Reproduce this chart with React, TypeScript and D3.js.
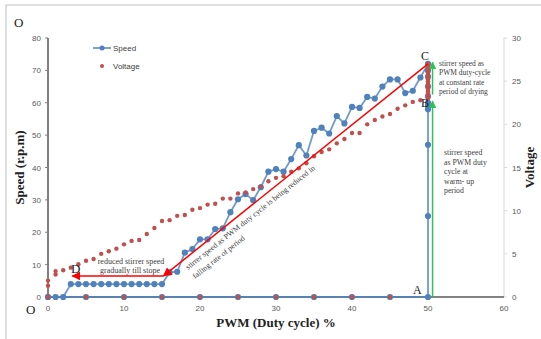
import * as d3 from "d3";

// speed series (r.p.m) — warm-up along 0, climb at 50 %, then falling-rate path back to 0
const speedDuty = [
  0, 5, 10, 15, 20, 25, 30, 35, 40, 45, 50,
  50, 50, 50, 50, 50, 50, 50, 50, 50, 50,
  49, 48, 47, 46, 45, 44, 43, 42, 41, 40, 39, 38, 37, 36, 35, 34, 33, 32, 31, 30,
  29, 28, 27, 26, 25, 24, 23, 22, 21, 20, 19, 18, 17, 16,
  15, 14, 13, 12, 11, 10, 9, 8, 7, 6, 5, 4, 3, 2, 1, 0,
];
const speedRpm = [
  0, 0, 0, 0, 0, 0, 0, 0, 0, 0, 0,
  25, 47, 58, 59, 60, 62, 65, 68, 70, 72,
  67.8, 63.7, 63, 67.2, 67.2, 65, 61.3, 61.8, 58.4, 58.7, 53.6, 55.9, 50.5, 52.3, 51.3, 43.7, 46.9, 42.6, 38.7, 39.5,
  38.7, 33.9, 29.9, 31.8, 30.2, 26.2, 21.2, 21, 17.8, 17.8, 14.8, 13.7, 7.8, 7.6,
  4, 4, 4, 4, 4, 4, 4, 4, 4, 4, 4, 4, 4, 0, 0, 0,
];

// voltage series (V)
const voltDuty = [
  0, 5, 10, 15, 20, 25, 30, 35, 40, 45,
  0, 0, 1, 1,
  2, 3, 4, 5, 6, 7, 8, 9, 10, 11, 12, 13, 14, 15, 16, 17, 18, 19, 20,
  21, 22, 23, 24, 25, 26, 27, 28, 29, 30, 31, 32, 33, 34, 35, 36, 37, 38, 39, 40,
  41, 42, 43, 44, 45, 46, 47, 48, 49,
  50, 50, 50, 50, 50, 50, 50, 50, 50, 50, 50, 50, 50, 50, 50, 50, 50, 50, 50, 50, 50,
];
const voltValue = [
  0, 0, 0, 0, 0, 0, 0, 0, 0, 0,
  1.3, 1.9, 2.6, 3.0,
  3.1, 3.4, 3.8, 4.2, 4.4, 5.0, 5.3, 5.6, 6.1, 6.5, 6.6, 7.3, 8.0, 8.8, 8.9, 9.4, 9.5, 10.1, 10.3,
  10.7, 10.8, 11.4, 11.4, 12.0, 12.1, 12.5, 12.8, 13.4, 13.8, 14.0, 14.5, 14.9, 15.5, 16.3, 16.8, 17.1, 17.8, 18.3, 19.0,
  19.0, 20.0, 20.5, 20.9, 21.2, 21.8, 22.2, 22.6, 22.8,
  23.0, 23.2, 23.4, 23.6, 23.8, 24.0, 24.2, 24.4, 24.6, 24.8, 25.0, 25.2, 25.4, 25.6, 25.8, 26.0, 26.2, 26.4, 26.6, 26.8, 27.0,
];

const xTicks = [0, 10, 20, 30, 40, 50, 60];
const speedTicks = [0, 10, 20, 30, 40, 50, 60, 70, 80];
const voltTicks = [0, 5, 10, 15, 20, 25, 30];

const W = 541;
const H = 339;
const serif = "'Liberation Serif', 'Times New Roman', serif";
const sans = "'Liberation Sans', Arial, sans-serif";
const blue = "#4f81bd";
const red = "#c0504d";

export default function App() {
  const x = d3.scaleLinear().domain([0, 60]).range([48, 504]);
  const y = d3.scaleLinear().domain([0, 80]).range([297, 38]);
  const yv = d3.scaleLinear().domain([0, 30]).range([297, 38]);

  const speedPts: [number, number][] = speedDuty.map((d, i) => [d, speedRpm[i]]);
  const line = d3
    .line<[number, number]>()
    .x((d) => x(d[0]))
    .y((d) => y(d[1]));

  // annotation path C -> bend -> D
  const cx = x(50), cy = y(72);
  const bx = x(15.2), by = y(6.5);
  const dx = x(3.2);

  return (
    <svg
      width={W}
      height={H}
      style={{ position: "absolute", left: 0, top: 0, background: "#fff" }}
    >
      <defs>
        <marker id="ar" viewBox="0 0 10 10" refX="9" refY="5" markerWidth="6" markerHeight="6" orient="auto">
          <path d="M0,0 L10,5 L0,10 z" fill="#ff0000" />
        </marker>
        <marker id="ag" viewBox="0 0 10 10" refX="9" refY="5" markerWidth="5" markerHeight="5" orient="auto">
          <path d="M0,0 L10,5 L0,10 z" fill="#2fc25b" />
        </marker>
      </defs>

      {/* frame */}
      <rect x={6} y={5} width={W + 10} height={H + 10} fill="none" stroke="#bfbfbf" strokeWidth={1} />

      {/* right axis */}
      <line x1={x(60)} x2={x(60)} y1={yv(0)} y2={yv(30)} stroke="#d9d9d9" strokeWidth={1} />
      {voltTicks.map((t) => (
        <g key={"v" + t}>
          <line x1={x(60)} x2={x(60) + 3} y1={yv(t)} y2={yv(t)} stroke="#d9d9d9" />
          <text x={x(60) + 8} y={yv(t) + 3} fontSize={8} fontFamily={sans} fill="#595959">
            {t}
          </text>
        </g>
      ))}

      {/* bottom axis */}
      <line x1={x(0)} x2={x(60)} y1={y(0)} y2={y(0)} stroke="#595959" strokeWidth={1.3} />
      {xTicks.map((t) => (
        <text key={"x" + t} x={x(t)} y={y(0) + 14} fontSize={8} fontFamily={sans} fill="#595959" textAnchor="middle">
          {t}
        </text>
      ))}

      {/* left axis */}
      <line x1={x(0)} x2={x(0)} y1={y(0)} y2={y(80)} stroke="#808080" strokeWidth={2} />
      {speedTicks.map((t) => (
        <g key={"s" + t}>
          <line x1={x(0) - 3} x2={x(0)} y1={y(t)} y2={y(t)} stroke="#808080" />
          <text x={x(0) - 7} y={y(t) + 3} fontSize={8} fontFamily={sans} fill="#595959" textAnchor="end">
            {t}
          </text>
        </g>
      ))}

      {/* speed series */}
      <path d={line(speedPts) || ""} fill="none" stroke={blue} strokeWidth={1.8} strokeOpacity={0.8} />
      {speedPts.map((d, i) => (
        <circle key={"sp" + i} cx={x(d[0])} cy={y(d[1])} r={3.1} fill={blue} />
      ))}

      {/* voltage series */}
      {voltDuty.map((d, i) => (
        <circle key={"vp" + i} cx={x(d)} cy={yv(voltValue[i])} r={2.2} fill={red} />
      ))}

      {/* red annotation lines */}
      <path d={`M${cx},${cy} L${bx},${by}`} stroke="#ff0000" strokeWidth={1.5} fill="none" markerEnd="url(#ar)" />
      <path d={`M${bx},${by} L${dx},${by}`} stroke="#ff0000" strokeWidth={1.5} fill="none" markerEnd="url(#ar)" />

      {/* green arrows */}
      <line x1={x(50.6)} x2={x(50.6)} y1={y(0)} y2={y(60.5)} stroke="#2fc25b" strokeWidth={1.5} markerEnd="url(#ag)" />
      <line x1={x(50.6)} x2={x(50.6)} y1={y(62.5)} y2={y(72.5)} stroke="#2fc25b" strokeWidth={1.5} markerEnd="url(#ag)" />

      {/* letters */}
      <g fontFamily={serif} fill="#222">
        <text x={14} y={27} fontSize={13}>O</text>
        <text x={26} y={314} fontSize={13}>O</text>
        <text x={421} y={60} fontSize={12}>C</text>
        <text x={421} y={107} fontSize={12}>B</text>
        <text x={413} y={294} fontSize={12}>A</text>
        <text x={71} y={273} fontSize={13}>D</text>
      </g>

      {/* annotations */}
      <g fontFamily={serif} fill="#404040">
        <text x={131} y={264} fontSize={8} textAnchor="middle">reduced stirrer speed</text>
        <text x={130} y={273} fontSize={8} textAnchor="middle">gradually  till  stope</text>
        <text transform="translate(188,270) rotate(-38.4)" fontSize={7.8}>
          stirrer speed as PWM duty cycle is being reduced in
        </text>
        <text transform="translate(195,279) rotate(-38.4)" fontSize={7.8}>
          falling rate of period
        </text>
        <g fontSize={7.5}>
          <text x={439} y={66}>stirrer speed as</text>
          <text x={439} y={75}>PWM duty-cycle</text>
          <text x={439} y={84.5}>at constant rate</text>
          <text x={439} y={94}>period of drying</text>
        </g>
        <g fontSize={7.8}>
          <text x={444} y={155}>stirrer speed</text>
          <text x={444} y={164.5}>as PWM duty</text>
          <text x={444} y={174}>cycle at</text>
          <text x={444} y={183.5}>warm- up</text>
          <text x={444} y={193}>period</text>
        </g>
      </g>

      {/* axis titles */}
      <text
        transform={`translate(24,${(y(0) + y(80)) / 2}) rotate(-90)`}
        textAnchor="middle"
        fontFamily={serif}
        fontWeight="bold"
        fontSize={13}
        fill="#222"
      >
        Speed (r.p.m)
      </text>
      <text
        x={(x(0) + x(60)) / 2}
        y={327}
        textAnchor="middle"
        fontFamily={serif}
        fontWeight="bold"
        fontSize={13}
        fill="#222"
      >
        PWM (Duty cycle) %
      </text>
      <text
        transform={`translate(534,${(y(0) + y(80)) / 2}) rotate(-90)`}
        textAnchor="middle"
        fontFamily={serif}
        fontWeight="bold"
        fontSize={13}
        fill="#222"
      >
        Voltage
      </text>

      {/* legend */}
      <line x1={93} x2={111} y1={48} y2={48} stroke={blue} strokeWidth={1.5} />
      <circle cx={102} cy={48} r={2.5} fill={blue} />
      <text x={113} y={51} fontSize={8} fontFamily={sans} fill="#404040">Speed</text>
      <circle cx={102} cy={66} r={2} fill={red} />
      <text x={113} y={69} fontSize={8} fontFamily={sans} fill="#404040">Voltage</text>
    </svg>
  );
}
